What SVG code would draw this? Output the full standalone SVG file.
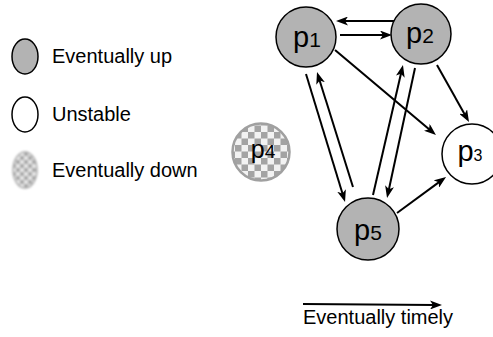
<svg xmlns="http://www.w3.org/2000/svg" width="493" height="337" viewBox="0 0 493 337">
  <style>
    text { font-family: "Liberation Sans", Arial, sans-serif; fill: #000; }
    .label { font-size: 20px; }
    .pname { font-size: 29px; text-anchor: middle; }
    .up { fill: #b3b3b3; stroke: #000; stroke-width: 1.5; }
    .unstable { fill: #fff; stroke: #000; stroke-width: 1.5; }
    .edge { fill: none; stroke: #000; stroke-width: 2; marker-end: url(#head); }
  </style>
  <defs>
    <marker id="head" markerUnits="userSpaceOnUse" markerWidth="12" markerHeight="9" refX="5" refY="4.5" orient="auto">
      <path d="M0,0 L12,4.5 L0,9 L3,4.5 z" fill="#000"/>
    </marker>
    <pattern id="checker" width="13" height="13" patternUnits="userSpaceOnUse" x="1" y="2">
      <rect width="13" height="13" fill="#f2f2f2"/>
      <rect width="6.5" height="6.5" fill="#a3a3a3"/>
      <rect x="6.5" y="6.5" width="6.5" height="6.5" fill="#a3a3a3"/>
    </pattern>
    <pattern id="checkerSmall" width="8" height="8" patternUnits="userSpaceOnUse">
      <rect width="8" height="8" fill="#e6e6e6"/>
      <rect width="4" height="4" fill="#a8a8a8"/>
      <rect x="4" y="4" width="4" height="4" fill="#a8a8a8"/>
    </pattern>
    <filter id="soft" x="-20%" y="-20%" width="140%" height="140%">
      <feGaussianBlur stdDeviation="0.55"/>
    </filter>
    <filter id="softer" x="-30%" y="-30%" width="160%" height="160%">
      <feGaussianBlur stdDeviation="1"/>
    </filter>
  </defs>

  <!-- legend -->
  <g id="legend">
    <ellipse class="up" cx="25" cy="56.5" rx="13" ry="17.5"/>
    <text class="label" x="52" y="63">Eventually up</text>
    <ellipse class="unstable" cx="25" cy="114.5" rx="13" ry="17.5"/>
    <text class="label" x="52" y="121">Unstable</text>
    <ellipse cx="25" cy="170" rx="12" ry="18" fill="url(#checkerSmall)" stroke="#b0b0b0" stroke-width="1.5" filter="url(#softer)"/>
    <text class="label" x="52" y="177">Eventually down</text>
    <path class="edge" d="M303,304 L435,305"/>
    <text class="label" x="303" y="324">Eventually timely</text>
  </g>

  <!-- connectors -->
  <g id="edges">
    <path class="edge" d="M397,21 L343,21"/>
    <path class="edge" d="M340,35 L385,35"/>
    <path class="edge" d="M335,50 L430.6,130.5"/>
    <path class="edge" d="M437,65 L465.6,115.9"/>
    <path class="edge" d="M397,213 L440.4,181.1"/>
    <path class="edge" d="M306,74 L343,195.3"/>
    <path class="edge" d="M353,187 L319.1,78.7"/>
    <path class="edge" d="M415,68 L388.5,191.2"/>
    <path class="edge" d="M373,195 L401.4,71.8"/>
  </g>

  <!-- processes -->
  <g id="p1">
    <circle class="up" cx="306" cy="37" r="30"/>
    <text class="pname" x="307" y="47">p<tspan font-size="21">1</tspan></text>
  </g>
  <g id="p2">
    <circle class="up" cx="421" cy="34" r="30"/>
    <text class="pname" x="420" y="43">p<tspan font-size="21">2</tspan></text>
  </g>
  <g id="p3">
    <circle class="unstable" cx="472" cy="154" r="30"/>
    <text class="pname" x="470" y="161">p<tspan font-size="16">3</tspan></text>
  </g>
  <g id="p4">
    <circle cx="261" cy="152" r="28.5" fill="url(#checker)" stroke="#a0a0a0" stroke-width="2.5" filter="url(#soft)"/>
    <text class="pname" x="263" y="158" style="font-size:25px">p<tspan font-size="19">4</tspan></text>
  </g>
  <g id="p5">
    <circle class="up" cx="368" cy="229" r="31"/>
    <text class="pname" x="368" y="240">p<tspan font-size="21">5</tspan></text>
  </g>
</svg>
